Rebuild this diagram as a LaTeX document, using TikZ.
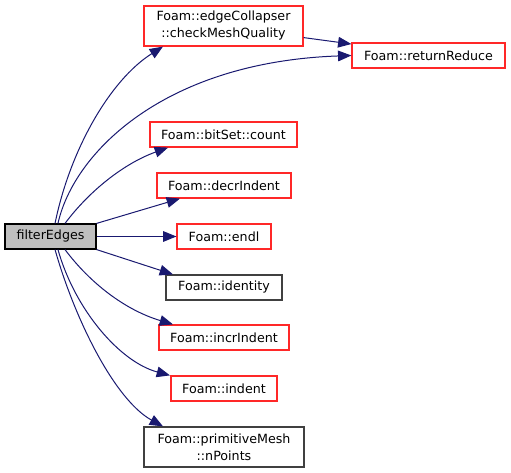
\documentclass[tikz,border=0pt]{standalone}
\usepackage{fontspec}
\setmainfont{DejaVu Sans}
\usetikzlibrary{arrows.meta}
\definecolor{edgeblue}{RGB}{25,25,112}
\definecolor{boxred}{RGB}{255,40,40}
\definecolor{boxgrey}{RGB}{64,64,64}
\definecolor{fillgrey}{RGB}{191,191,191}
\tikzset{
  fn/.style={draw=boxred, line width=0.9pt, fill=white, inner sep=0pt, align=center,
    minimum height=18.75pt, font=\fontsize{9.5}{12.75}\selectfont},
  fnblack/.style={fn, draw=boxgrey},
  fnmain/.style={fn, draw=black, fill=fillgrey},
  tall/.style={minimum height=30pt},
  call/.style={draw=edgeblue, line width=0.75pt, -{Triangle[length=10pt,width=8pt]}, fill=none},
}
\begin{document}
\begin{tikzpicture}[x=0.75pt,y=-0.75pt]
\useasboundingbox (0,0) rectangle (511,473);
\node[fnmain, minimum width=68.25pt] (fe) at (50.5,236.5) {filterEdges};
\node[fn, tall, minimum width=119.25pt] (cmq) at (223.5,26) {Foam::edgeCollapser\\::checkMeshQuality};
\node[fn, minimum width=114.75pt] (rr) at (428.5,55.5) {Foam::returnReduce};
\node[fn, minimum width=110.25pt] (bs) at (223.5,134.5) {Foam::bitSet::count};
\node[fn, minimum width=100.5pt] (di) at (224,185.5) {Foam::decrIndent};
\node[fn, minimum width=70.5pt] (el) at (224,236.5) {Foam::endl};
\node[fnblack, minimum width=87pt] (id) at (224,287.5) {Foam::identity};
\node[fn, minimum width=97.5pt] (ii) at (224,337.5) {Foam::incrIndent};
\node[fn, minimum width=79.5pt] (in) at (224,388.5) {Foam::indent};
\node[fnblack, tall, minimum width=120pt] (np) at (224,447) {Foam::primitiveMesh\\::nPoints};

\draw[call] ([xshift=3.4pt]fe.north) .. controls (70,150) and (110,80) .. ([xshift=-45.4pt]cmq.south);
\draw[call] ([xshift=5.6pt]fe.north) .. controls (74,152) and (165,62) .. (rr.west);
\draw[call] ([xshift=10.9pt]fe.north) .. controls (90,190) and (125,163) .. ([xshift=-41.6pt]bs.south);
\draw[call] (fe.north east) -- ([xshift=-33pt]di.south);
\draw[call] (fe.east) -- (el.west);
\draw[call] (fe.south east) -- ([xshift=-38.25pt]id.north);
\draw[call] ([xshift=10.9pt]fe.south) .. controls (90,283) and (125,310) .. ([xshift=-38.25pt]ii.north);
\draw[call] ([xshift=5.6pt]fe.south) .. controls (75,310) and (120,362) .. ([xshift=-40.5pt]in.north);
\draw[call] ([xshift=3.4pt]fe.south) .. controls (75,320) and (115,400) .. ([xshift=-45.75pt]np.north);
\draw[call] ([yshift=-8.7pt]cmq.east) -- ([yshift=8.6pt]rr.west);
\end{tikzpicture}
\end{document}
